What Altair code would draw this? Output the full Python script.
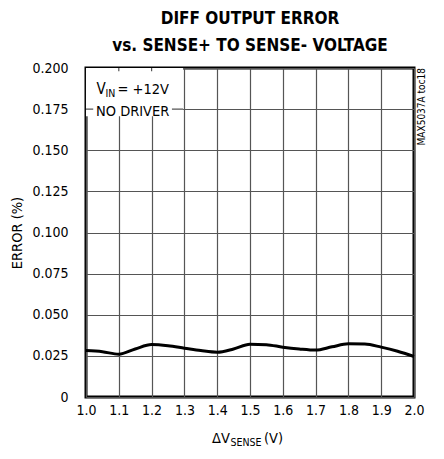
import altair as alt
import pandas as pd

# Data
vsense = [1.0, 1.05, 1.1, 1.15, 1.2, 1.25, 1.3, 1.35, 1.4, 1.45, 1.5, 1.55, 1.6, 1.65, 1.7, 1.75, 1.8, 1.85, 1.9, 1.95, 2.0]
error = [0.0282, 0.0275, 0.0260, 0.0292, 0.0319, 0.0312, 0.0297, 0.0282, 0.0272, 0.0292, 0.0321, 0.0318, 0.0303, 0.0292, 0.0285, 0.0305, 0.0323, 0.0322, 0.0303, 0.0278, 0.0246]
x_ticks = [1.0, 1.1, 1.2, 1.3, 1.4, 1.5, 1.6, 1.7, 1.8, 1.9, 2.0]
y_ticks = [0, 0.025, 0.05, 0.075, 0.1, 0.125, 0.15, 0.175, 0.2]

title_lines = ["DIFF OUTPUT ERROR", "vs. SENSE+ TO SENSE- VOLTAGE"]

FONT = "DejaVu Sans Condensed, Liberation Sans Narrow, sans-serif"
W, H = 328, 329

df = pd.DataFrame({"v": vsense, "e": error})

xs = alt.Scale(domain=[1.0, 2.0], nice=False)
ys = alt.Scale(domain=[0, 0.2], nice=False)

x_axis = alt.Axis(values=x_ticks, format=".1f", title=None, grid=True, domain=False,
                  ticks=False, labelPadding=6, labelFontSize=14, labelFont=FONT,
                  labelColor="black", labelFlush=False, labelOverlap=False,
                  gridColor="#555", gridWidth=1.2, gridOpacity=1)
y_axis = alt.Axis(values=y_ticks, title="ERROR (%)", grid=True, domain=False, ticks=False,
                  labelExpr="datum.value == 0 ? '0' : format(datum.value, '.3f')",
                  labelPadding=18, labelFontSize=14, labelFont=FONT, labelColor="black",
                  labelFlush=False, labelOverlap=False,
                  titleFont=FONT, titleFontSize=14.5, titleFontWeight="normal", titleColor="black",
                  titleX=-65, titleY=H / 2, titleAngle=270, titleAlign="center",
                  titleBaseline="alphabetic",
                  gridColor="#555", gridWidth=1.2, gridOpacity=1)

def X(field):
    return alt.X(field, scale=xs, axis=x_axis)

def Y(field):
    return alt.Y(field, scale=ys, axis=y_axis)

line = alt.Chart(df).mark_line(color="black", strokeWidth=3, interpolate="monotone").encode(
    x=X("v:Q"), y=Y("e:Q"))

# white box behind the annotation
box_df = pd.DataFrame({"x1": [1.0], "x2": [1.296], "y1": [0.1707], "y2": [0.2]})
box = alt.Chart(box_df).mark_rect(color="white").encode(
    x=X("x1:Q"), x2="x2:Q", y=Y("y1:Q"), y2="y2:Q")

gl_df = pd.DataFrame({"x1": [1.0], "x2": [1.296], "y": [0.175]})
gline = alt.Chart(gl_df).mark_rule(color="#555", strokeWidth=1.2).encode(
    x=X("x1:Q"), x2="x2:Q", y=Y("y:Q"))

tb_df = pd.DataFrame({"x1": [1.022], "x2": [1.262], "y1": [0.1715], "y2": [0.1785]})
tbox = alt.Chart(tb_df).mark_rect(color="white").encode(
    x=X("x1:Q"), x2="x2:Q", y=Y("y1:Q"), y2="y2:Q")

stub_df = pd.DataFrame({"x": [1.1, 1.2], "y1": [0.2, 0.2], "y2": [0.198, 0.198]})
stubs = alt.Chart(stub_df).mark_rule(color="#555", strokeWidth=1.2).encode(
    x=X("x:Q"), y=Y("y1:Q"), y2="y2:Q")

def txt(text, x, y, size, align="left", angle=0, baseline="alphabetic"):
    kw = dict(text=text, font=FONT, fontSize=size, align=align, baseline=baseline, color="black")
    if angle:
        kw["angle"] = angle
    return alt.Chart(pd.DataFrame({"a": [0]})).mark_text(**kw).encode(
        x=alt.value(x), y=alt.value(y))

ann = [
    txt("V", 10.5, 26, 15),
    txt("IN", 19.5, 28.5, 10.5),
    txt("= +12V", 31.5, 26, 14.5),
    txt("NO DRIVER", 10, 48, 14.5),
    txt("ΔV", 126, 375, 14.5),
    txt("SENSE", 144.5, 377.5, 10.5),
    txt("(V)", 178, 375, 14.5),
    txt("MAX5037A toc18", 336, 0, 10, align="right", angle=270, baseline="middle"),
]

chart = alt.layer(box, gline, tbox, stubs, line, *ann).properties(
    width=W, height=H,
    title=alt.TitleParams(text=title_lines, font=FONT, fontSize=17, fontWeight="bold",
                          anchor="middle", lineHeight=27, offset=6, color="black"),
    autosize=alt.AutoSizeParams(type="none"),
    padding={"left": 78, "top": 60, "right": 20, "bottom": 50},
).configure_view(stroke="black", strokeWidth=3)

chart.save("out.html", embed_options={"renderer": "svg", "actions": False})
